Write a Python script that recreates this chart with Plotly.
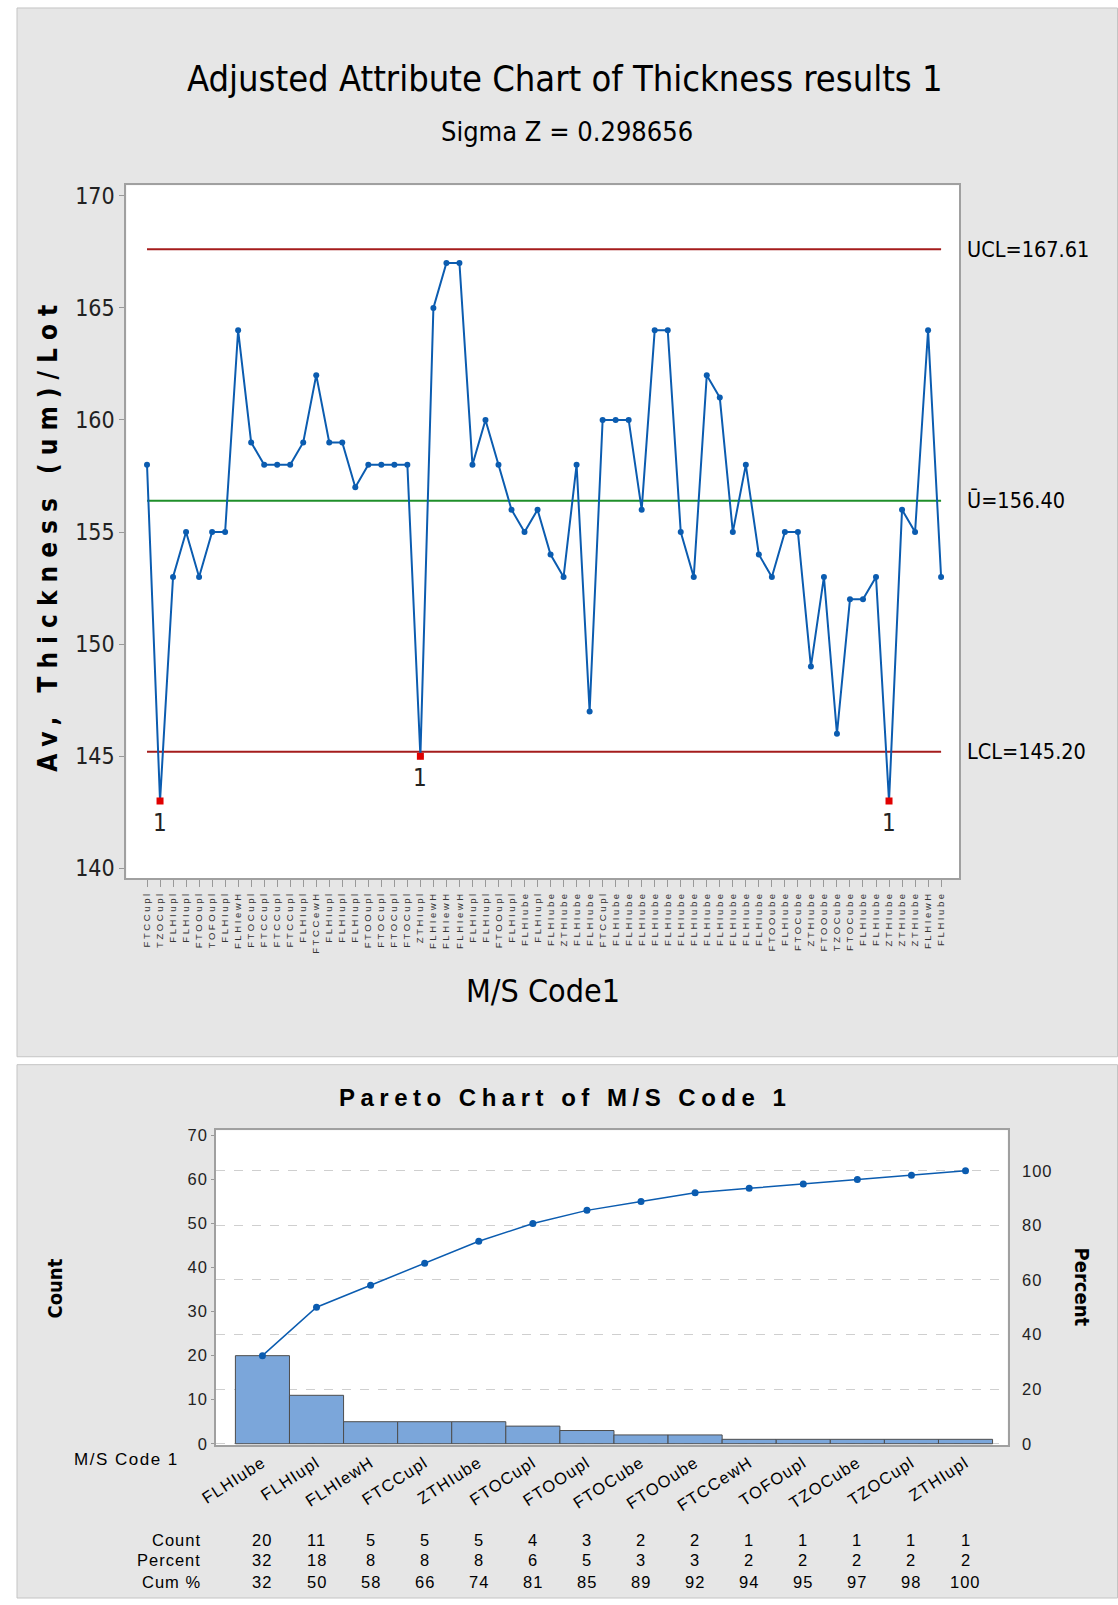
import plotly.graph_objects as go

# ---------------- data ----------------
codes = [
    "FTCCupl", "TZOCupl", "FLHIupl", "FLHIupl", "FTOOupl", "TOFOupl", "FLHIupl", "FLHIewH",
    "FTOCupl", "FTCCupl", "FTCCupl", "FTCCupl", "FLHIupl", "FTCCewH", "FLHIupl", "FLHIupl",
    "FLHIupl", "FTOOupl", "FTOCupl", "FTOCupl", "FTOCupl", "ZTHIupl", "FLHIewH", "FLHIewH",
    "FLHIewH", "FLHIupl", "FLHIupl", "FTOOupl", "FLHIupl", "FLHIube", "FLHIupl", "FLHIube",
    "ZTHIube", "FLHIube", "FLHIube", "FTCCupl", "FLHIube", "FLHIube", "FLHIube", "FLHIube",
    "FLHIube", "FLHIube", "FLHIube", "FLHIube", "FLHIube", "FLHIube", "FLHIube", "FLHIube",
    "FTOOube", "FLHIube", "FTOCube", "ZTHIube", "FTOOube", "TZOCube", "FTOCube", "FLHIube",
    "FLHIube", "ZTHIube", "ZTHIube", "ZTHIube", "FLHIewH", "FLHIube",
]
thickness = [
    158, 143, 153, 155, 153, 155, 155, 164, 159, 158, 158, 158, 159, 162, 159, 159,
    157, 158, 158, 158, 158, 145, 165, 167, 167, 158, 160, 158, 156, 155, 156, 154,
    153, 158, 147, 160, 160, 160, 156, 164, 164, 155, 153, 162, 161, 155, 158, 154,
    153, 155, 155, 149, 153, 146, 152, 152, 153, 143, 156, 155, 164, 153,
]
UCL = 167.61
CENTER = 156.40
LCL = 145.20
sigma_z = "0.298656"
y_ticks_top = [140, 145, 150, 155, 160, 165, 170]

pareto_cats = ["FLHIube", "FLHIupl", "FLHIewH", "FTCCupl", "ZTHIube", "FTOCupl", "FTOOupl",
               "FTOCube", "FTOOube", "FTCCewH", "TOFOupl", "TZOCube", "TZOCupl", "ZTHIupl"]
pareto_counts = [20, 11, 5, 5, 5, 4, 3, 2, 2, 1, 1, 1, 1, 1]
pareto_percent = [32, 18, 8, 8, 8, 6, 5, 3, 3, 2, 2, 2, 2, 2]
pareto_cum = [32, 50, 58, 66, 74, 81, 85, 89, 92, 94, 95, 97, 98, 100]
count_ticks = [0, 10, 20, 30, 40, 50, 60, 70]
percent_ticks = [0, 20, 40, 60, 80, 100]

# ---------------- layout helpers ----------------
W, H = 1118, 1605
def px(x):
    return x / W
def py(y):
    return 1 - y / H

NARROW = "Liberation Sans Narrow, DejaVu Sans Condensed, Arial Narrow, sans-serif"
SANS = "Liberation Sans, Arial, sans-serif"
PANEL = "#e6e6e6"
BOT_FONT = 16.5
BOT_SP = 1

def spaced(t, s):
    return '<span style="letter-spacing:%spx">%s</span>' % (s, t)

fig = go.Figure()

n = len(thickness)
idx = list(range(n))

for val, col in [(UCL, "#a51c1c"), (LCL, "#a51c1c"), (CENTER, "#1f8f2a")]:
    fig.add_trace(go.Scatter(x=[0, n - 1], y=[val, val], mode="lines",
                             line=dict(color=col, width=2), hoverinfo="skip",
                             xaxis="x", yaxis="y"))

fig.add_trace(go.Scatter(x=idx, y=thickness, mode="lines+markers",
                         line=dict(color="#0b5cb0", width=2),
                         marker=dict(color="#0b5cb0", size=6),
                         xaxis="x", yaxis="y"))

flag_x = [i for i, v in enumerate(thickness) if v < LCL or v > UCL]
flag_y = [thickness[i] for i in flag_x]
fig.add_trace(go.Scatter(x=flag_x, y=flag_y, mode="markers",
                         marker=dict(color="#e00000", size=7, symbol="square"),
                         xaxis="x", yaxis="y"))

total = sum(pareto_counts)
cum_pct = []
s = 0
for c in pareto_counts:
    s += c
    cum_pct.append(s / total * 100)
pidx = list(range(len(pareto_cats)))

fig.add_trace(go.Bar(x=pidx, y=pareto_counts, width=1.0,
                     marker=dict(color="#7ba6da", line=dict(color="#4d4d4d", width=1)),
                     xaxis="x2", yaxis="y2"))
fig.add_trace(go.Scatter(x=pidx, y=cum_pct, mode="lines+markers",
                         line=dict(color="#0b5cb0", width=1.5),
                         marker=dict(color="#0b5cb0", size=7),
                         xaxis="x2", yaxis="y3"))

# plot-area positions (px)
T_L, T_R, T_TOP, T_BOT = 111, 957, 182.5, 880.5
B_L, B_R, B_TOP, B_BOT = 202, 1006, 1134, 1451

shapes = [
    dict(type="rect", xref="paper", yref="paper", x0=px(0), x1=px(1117.5), y0=py(1060), y1=py(4),
         fillcolor=PANEL, line=dict(color="#c4c4c4", width=1), layer="below"),
    dict(type="rect", xref="paper", yref="paper", x0=px(0), x1=px(1117.5), y0=py(1605), y1=py(1068),
         fillcolor=PANEL, line=dict(color="#c4c4c4", width=1), layer="below"),
    dict(type="rect", xref="paper", yref="paper", x0=px(T_L), x1=px(T_R), y0=py(T_BOT), y1=py(T_TOP),
         fillcolor="white", line=dict(width=0), layer="below"),
    dict(type="rect", xref="paper", yref="paper", x0=px(B_L), x1=px(B_R), y0=py(B_BOT), y1=py(B_TOP),
         fillcolor="white", line=dict(width=0), layer="below"),
]

ann = []
ann.append(dict(text="Adjusted Attribute Chart of Thickness results 1", x=px(556), y=py(75),
                xref="paper", yref="paper", showarrow=False, xanchor="center", yanchor="middle",
                font=dict(family=NARROW, size=36, color="black")))
ann.append(dict(text="Sigma Z = " + sigma_z, x=px(558), y=py(128),
                xref="paper", yref="paper", showarrow=False, xanchor="center", yanchor="middle",
                font=dict(family=NARROW, size=27, color="black")))
ann.append(dict(text="<b>" + spaced("Av, Thickness (um)/Lot", 8) + "</b>", x=px(32), y=py(534),
                textangle=-90, xref="paper", yref="paper", showarrow=False,
                xanchor="center", yanchor="middle",
                font=dict(family=NARROW, size=26, color="black")))
ann.append(dict(text="M/S Code1", x=px(534), y=py(994),
                xref="paper", yref="paper", showarrow=False, xanchor="center", yanchor="middle",
                font=dict(family=NARROW, size=32, color="black")))
for lbl, val in [("UCL=167.61", UCL), ("Ū=156.40", CENTER), ("LCL=145.20", LCL)]:
    ann.append(dict(text=lbl, x=px(963), y=val, xref="paper", yref="y", showarrow=False,
                    xanchor="left", yanchor="middle",
                    font=dict(family=NARROW, size=21.5, color="black")))
for i in flag_x:
    ann.append(dict(text="1", x=i, y=thickness[i], xref="x", yref="y", showarrow=False,
                    xanchor="center", yanchor="middle", yshift=-22,
                    font=dict(family=NARROW, size=24, color="#222")))

ann.append(dict(text="<b>" + spaced("Pareto Chart of M/S Code 1", 5.5) + "</b>", x=px(556), y=py(1101),
                xref="paper", yref="paper", showarrow=False, xanchor="center", yanchor="middle",
                font=dict(family=SANS, size=24, color="black")))
ann.append(dict(text="<b>Count</b>", x=px(39), y=py(1293), textangle=-90,
                xref="paper", yref="paper", showarrow=False, xanchor="center", yanchor="middle",
                font=dict(family=NARROW, size=20, color="black")))
ann.append(dict(text="<b>Percent</b>", x=px(1081), y=py(1292), textangle=90,
                xref="paper", yref="paper", showarrow=False, xanchor="center", yanchor="middle",
                font=dict(family=NARROW, size=20, color="black")))
ann.append(dict(text=spaced("M/S Code 1", 1.5), x=px(167), y=py(1466),
                xref="paper", yref="paper", showarrow=False, xanchor="right", yanchor="middle",
                font=dict(family=SANS, size=17, color="black")))
rows = [("Count", pareto_counts, 1546.5), ("Percent", pareto_percent, 1567), ("Cum %", pareto_cum, 1588.5)]
for name, vals, yy in rows:
    ann.append(dict(text=spaced(name, BOT_SP), x=px(189), y=py(yy), xref="paper", yref="paper",
                    showarrow=False, xanchor="right", yanchor="middle",
                    font=dict(family=SANS, size=BOT_FONT, color="black")))
    for i, v in enumerate(vals):
        ann.append(dict(text=spaced(str(v), BOT_SP), x=i, y=py(yy), xref="x2", yref="paper",
                        showarrow=False, xanchor="center", yanchor="middle",
                        font=dict(family=SANS, size=BOT_FONT, color="black")))

cnt_top = 71.2
cnt_bot = -0.3

fig.update_layout(
    width=W, height=H, margin=dict(l=0, r=0, t=0, b=0),
    paper_bgcolor="white", plot_bgcolor="rgba(0,0,0,0)", showlegend=False,
    shapes=shapes, annotations=ann,
    xaxis=dict(domain=[px(T_L), px(T_R)], range=[-1.59, n - 1 + 1.41], anchor="y",
               tickmode="array", tickvals=idx, ticktext=[spaced(c, 2.6) for c in codes], tickangle=-90,
               ticks="outside", ticklen=7, tickcolor="#999", tickwidth=1,
               tickfont=dict(family=SANS, size=9.5, color="#333"),
               showline=True, mirror=True, linecolor="#a0a0a0", linewidth=2,
               showgrid=False, zeroline=False),
    yaxis=dict(domain=[py(T_BOT), py(T_TOP)], range=[139.55, 170.47], anchor="x",
               tickmode="array", tickvals=y_ticks_top,
               ticks="outside", ticklen=5, tickcolor="#999",
               tickfont=dict(family=NARROW, size=23, color="#222"),
               showline=True, mirror=True, linecolor="#a0a0a0", linewidth=2,
               showgrid=False, zeroline=False),
    xaxis2=dict(domain=[px(B_L), px(B_R)], range=[-0.86, len(pareto_cats) - 1 + 0.78], anchor="y2",
                tickmode="array", tickvals=pidx, ticktext=[spaced(c, 1.2) for c in pareto_cats],
                tickangle=-33,
                ticks="", tickfont=dict(family=SANS, size=BOT_FONT, color="black"),
                showline=True, mirror=True, linecolor="#a0a0a0", linewidth=1.5,
                showgrid=False, zeroline=False),
    yaxis2=dict(domain=[py(B_BOT), py(B_TOP)], range=[cnt_bot, cnt_top], anchor="x2",
                tickmode="array", tickvals=count_ticks, ticktext=[spaced(str(t), BOT_SP) for t in count_ticks],
                ticks="outside", ticklen=3, tickcolor="#999",
                tickfont=dict(family=SANS, size=BOT_FONT, color="#222"),
                showline=True, mirror=True, linecolor="#a0a0a0", linewidth=1.5,
                showgrid=False, zeroline=False),
    yaxis3=dict(overlaying="y2", side="right", anchor="x2",
                range=[cnt_bot * 100 / total, cnt_top * 100 / total],
                tickmode="array", tickvals=percent_ticks, ticktext=[spaced(str(t), BOT_SP) for t in percent_ticks],
                ticks="outside", ticklen=10, tickcolor="rgba(0,0,0,0)",
                tickfont=dict(family=SANS, size=BOT_FONT, color="#222"),
                showgrid=True, gridcolor="#cfcfcf", griddash="dash", gridwidth=1,
                showline=False, zeroline=False),
)

fig.write_html("out.html", config={"displayModeBar": False},
               post_script="document.body.style.margin='0';document.body.style.overflow='hidden';")
